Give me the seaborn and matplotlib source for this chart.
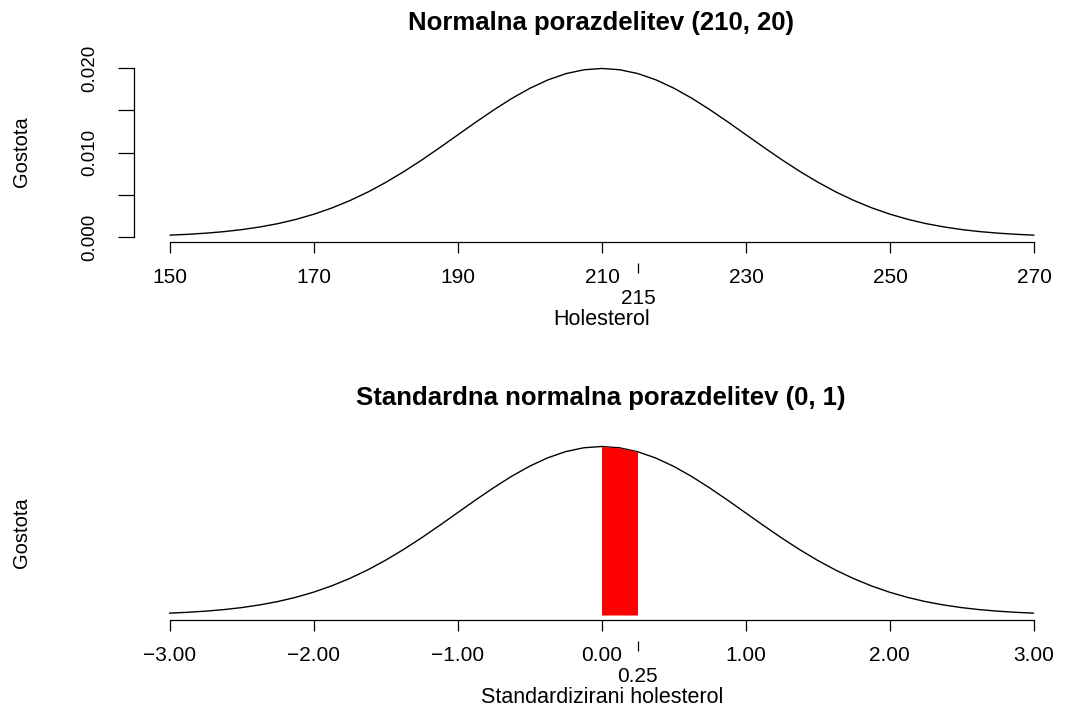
import matplotlib
matplotlib.use("Agg")
import matplotlib.pyplot as plt
import seaborn as sns

# ── Data ──────────────────────────────────────────────────────
# standardna normalna gostota, odčitana na z = 0, 0.125, ..., 3 (desna polovica)
Z_HALF = [0.0, 0.125, 0.25, 0.375, 0.5, 0.625, 0.75, 0.875,
          1.0, 1.125, 1.25, 1.375, 1.5, 1.625, 1.75, 1.875,
          2.0, 2.125, 2.25, 2.375, 2.5, 2.625, 2.75, 2.875, 3.0]
PHI_HALF = [0.3989, 0.3958, 0.3867, 0.3719, 0.3521, 0.3282, 0.3011, 0.2721,
            0.2420, 0.2119, 0.1826, 0.1550, 0.1295, 0.1065, 0.0863, 0.0688,
            0.0540, 0.0417, 0.0317, 0.0238, 0.0175, 0.0127, 0.0091, 0.0064, 0.0044]

MEAN, SD = 210, 20
MARK_X = 215
MARK_Z = 0.25

TOP_XTICKS = [150, 170, 190, 210, 230, 250, 270]
TOP_YTICKS = [0.000, 0.005, 0.010, 0.015, 0.020]
TOP_YLABELS = ["0.000", "", "0.010", "", "0.020"]
BOT_XTICKS = [-3, -2, -1, 0, 1, 2, 3]
BOT_XLABELS = ["\u22123.00", "\u22122.00", "\u22121.00", "0.00", "1.00", "2.00", "3.00"]

TITLE_TOP = "Normalna porazdelitev (210, 20)"
TITLE_BOT = "Standardna normalna porazdelitev (0, 1)"
XLAB_TOP = "Holesterol"
XLAB_BOT = "Standardizirani holesterol"
YLAB = "Gostota"

# celotna krivulja (zrcaljenje leve polovice)
z_all = [-v for v in reversed(Z_HALF[1:])] + Z_HALF
phi_all = list(reversed(PHI_HALF[1:])) + PHI_HALF
x_all = [MEAN + SD * v for v in z_all]
dens_all = [p / SD for p in phi_all]

# ── Style ─────────────────────────────────────────────────────
sns.set_theme(style="white")
plt.rcParams["font.family"] = ["Liberation Sans", "DejaVu Sans"]
plt.rcParams["axes.unicode_minus"] = True
for k in ["text.color", "axes.labelcolor", "xtick.color", "ytick.color",
          "xtick.labelcolor", "ytick.labelcolor"]:
    plt.rcParams[k] = "black"

W, H = 1067, 707
fig = plt.figure(figsize=(W / 100, H / 100), dpi=100, facecolor="white")

TICK_FS = 15


def place(ax, left, right, top, bottom, xa, xb, ya, yb):
    """Postavi os v pikslih; xa/xb, ya/yb = (vrednost, piksel)."""
    ax.set_position([left / W, 1 - bottom / H, (right - left) / W, (bottom - top) / H])
    sx = (xb[1] - xa[1]) / (xb[0] - xa[0])
    sy = (yb[1] - ya[1]) / (yb[0] - ya[0])
    ax.set_xlim(xa[0] + (left - xa[1]) / sx, xa[0] + (right - xa[1]) / sx)
    ax.set_ylim(ya[0] + (bottom - ya[1]) / sy, ya[0] + (top - ya[1]) / sy)


def base_axis(ax):
    for s in ["top", "right"]:
        ax.spines[s].set_visible(False)
    for s in ["left", "bottom"]:
        ax.spines[s].set_color("black")
        ax.spines[s].set_linewidth(0.9)
    ax.tick_params(axis="x", direction="out", length=7.9, width=0.9,
                   color="black", labelcolor="black", labelsize=TICK_FS,
                   pad=10.8, bottom=True)
    ax.grid(False)


def mark_tick(ax, val, label):
    sec = ax.secondary_xaxis("bottom")
    sec.spines["bottom"].set_position(("outward", 15.1))
    sec.spines["bottom"].set_visible(False)
    sec.set_xticks([val], labels=[label])
    sec.tick_params(axis="x", direction="out", length=7.2, width=0.9,
                    color="black", labelcolor="black", labelsize=TICK_FS, pad=11.6)


# ── Zgornji graf ──────────────────────────────────────────────
ax1 = fig.add_axes([0, 0, 1, 1])
sns.lineplot(x=x_all, y=dens_all, ax=ax1, color="black", linewidth=1.0)
place(ax1, 134, 1067, 60, 242, (150, 170), (270, 1034), (0.0, 237), (0.020, 68))
base_axis(ax1)
ax1.spines["bottom"].set_bounds(TOP_XTICKS[0], TOP_XTICKS[-1])
ax1.spines["left"].set_bounds(TOP_YTICKS[0], TOP_YTICKS[-1])
ax1.set_xticks(TOP_XTICKS, labels=[str(v) for v in TOP_XTICKS])
ax1.set_yticks(TOP_YTICKS, labels=TOP_YLABELS)
ax1.tick_params(axis="y", direction="out", length=11.5, width=0.9, color="black",
                labelcolor="black", labelsize=13.5, pad=14, left=True,
                labelrotation=90)
for t in ax1.get_yticklabels():
    t.set_va("center")
mark_tick(ax1, MARK_X, str(MARK_X))
ax1.set_xlabel("")
ax1.set_ylabel("")

# ── Spodnji graf ──────────────────────────────────────────────
ax2 = fig.add_axes([0, 0, 1, 1])
sns.lineplot(x=z_all, y=phi_all, ax=ax2, color="black", linewidth=1.0)
zf = [v for v in Z_HALF if v <= MARK_Z]
pf = PHI_HALF[:len(zf)]
ax2.fill_between(zf, 0, pf, color="#ff0000", linewidth=0, zorder=3)
place(ax2, 134, 1067, 436, 620, (-3, 169.5), (3, 1033.5), (0.0, 615), (0.3989, 446.5))
base_axis(ax2)
ax2.spines["left"].set_visible(False)
ax2.spines["bottom"].set_bounds(BOT_XTICKS[0], BOT_XTICKS[-1])
ax2.set_xticks(BOT_XTICKS, labels=BOT_XLABELS)
ax2.set_yticks([])
mark_tick(ax2, MARK_Z, f"{MARK_Z:.2f}")
ax2.set_xlabel("")
ax2.set_ylabel("")

# ── Naslovi in oznake osi ─────────────────────────────────────
def ftext(px, py, s, **kw):
    fig.text(px / W, 1 - py / H, s, color="black", **kw)


ftext(601, 30, TITLE_TOP, ha="center", va="baseline", fontsize=18.5, fontweight="bold")
ftext(601, 405, TITLE_BOT, ha="center", va="baseline", fontsize=18.5, fontweight="bold")
ftext(602, 325, XLAB_TOP, ha="center", va="baseline", fontsize=15.5)
ftext(602, 703, XLAB_BOT, ha="center", va="baseline", fontsize=15.5)
ftext(22, 152, YLAB, ha="center", va="center", rotation=90, fontsize=14.5)
ftext(22, 533, YLAB, ha="center", va="center", rotation=90, fontsize=14.5)

fig.savefig("out.png", dpi=100, facecolor="white")
